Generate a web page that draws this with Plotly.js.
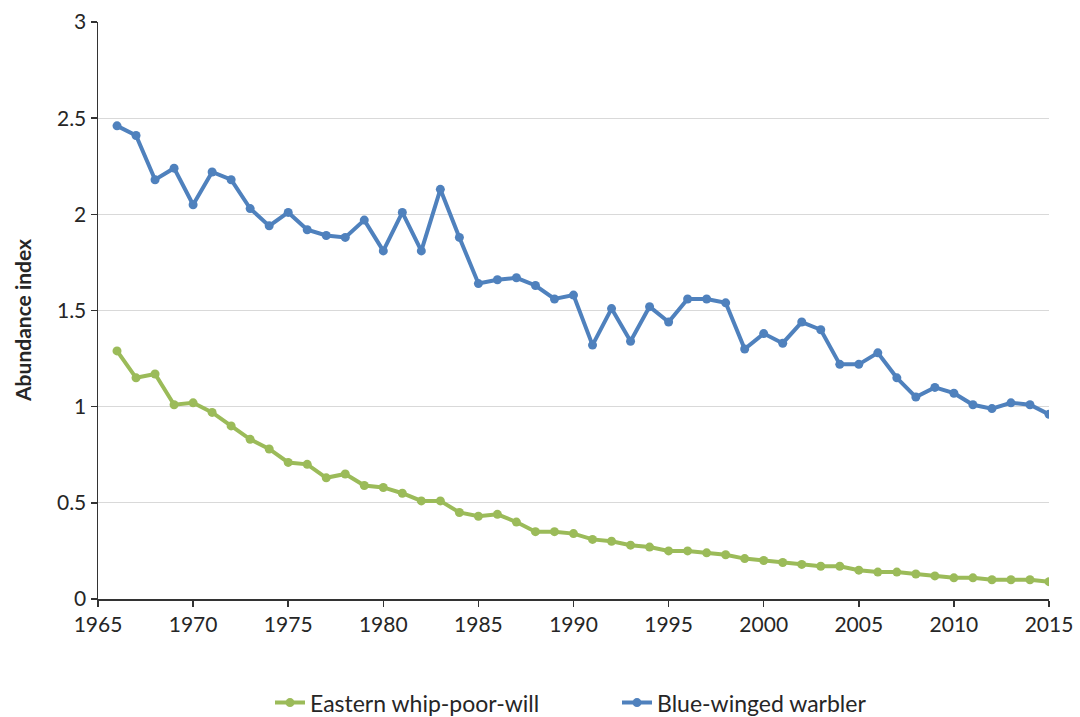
<!DOCTYPE html>
<html>
<head>
<meta charset="utf-8">
<script src="https://cdn.plot.ly/plotly-3.0.1.min.js"></script>
<style>
  html, body { margin: 0; padding: 0; background: #fff; }
  #chart { width: 1080px; height: 717px; }
</style>
</head>
<body>
<div id="chart"></div>
<script>
// Survey years
const years = [
  1966, 1967, 1968, 1969, 1970, 1971, 1972, 1973, 1974, 1975,
  1976, 1977, 1978, 1979, 1980, 1981, 1982, 1983, 1984, 1985,
  1986, 1987, 1988, 1989, 1990, 1991, 1992, 1993, 1994, 1995,
  1996, 1997, 1998, 1999, 2000, 2001, 2002, 2003, 2004, 2005,
  2006, 2007, 2008, 2009, 2010, 2011, 2012, 2013, 2014, 2015
];

// Abundance index, Eastern whip-poor-will
const whipPoorWill = [
  1.29, 1.15, 1.17, 1.01, 1.02, 0.97, 0.90, 0.83, 0.78, 0.71,
  0.70, 0.63, 0.65, 0.59, 0.58, 0.55, 0.51, 0.51, 0.45, 0.43,
  0.44, 0.40, 0.35, 0.35, 0.34, 0.31, 0.30, 0.28, 0.27, 0.25,
  0.25, 0.24, 0.23, 0.21, 0.20, 0.19, 0.18, 0.17, 0.17, 0.15,
  0.14, 0.14, 0.13, 0.12, 0.11, 0.11, 0.10, 0.10, 0.10, 0.09
];

// Abundance index, Blue-winged warbler
const blueWingedWarbler = [
  2.46, 2.41, 2.18, 2.24, 2.05, 2.22, 2.18, 2.03, 1.94, 2.01,
  1.92, 1.89, 1.88, 1.97, 1.81, 2.01, 1.81, 2.13, 1.88, 1.64,
  1.66, 1.67, 1.63, 1.56, 1.58, 1.32, 1.51, 1.34, 1.52, 1.44,
  1.56, 1.56, 1.54, 1.30, 1.38, 1.33, 1.44, 1.40, 1.22, 1.22,
  1.28, 1.15, 1.05, 1.10, 1.07, 1.01, 0.99, 1.02, 1.01, 0.96
];

const seriesNames = ['Eastern whip-poor-will', 'Blue-winged warbler'];
const xTicks = [1965, 1970, 1975, 1980, 1985, 1990, 1995, 2000, 2005, 2010, 2015];
const yTicks = [0, 0.5, 1, 1.5, 2, 2.5, 3];
const yTitle = 'Abundance index';

const FONT = 'Lato, "Open Sans", sans-serif';
const TEXT = '#262626';

const traces = [
  {
    x: years, y: whipPoorWill, name: seriesNames[0],
    type: 'scatter', mode: 'lines+markers',
    line: { color: '#9BBB59', width: 4 },
    marker: { color: '#9BBB59', size: 9 }
  },
  {
    x: years, y: blueWingedWarbler, name: seriesNames[1],
    type: 'scatter', mode: 'lines+markers',
    line: { color: '#4F81BD', width: 4 },
    marker: { color: '#4F81BD', size: 9 }
  }
];

const layout = {
  width: 1080, height: 717,
  margin: { l: 98, r: 31, t: 22, b: 118 },
  paper_bgcolor: '#ffffff', plot_bgcolor: '#ffffff',
  font: { family: FONT, size: 21, color: TEXT },
  showlegend: true,
  legend: {
    orientation: 'h',
    xref: 'container', x: 0.25, xanchor: 'left',
    yref: 'container', y: 0.02, yanchor: 'middle',
    font: { family: FONT, size: 23, color: TEXT },
    entrywidth: 302, entrywidthmode: 'pixels',
    tracegroupgap: 0
  },
  xaxis: {
    range: [1965, 2015],
    tickvals: xTicks, ticktext: xTicks.map(String),
    showgrid: false, zeroline: false,
    showline: true, linecolor: '#333', linewidth: 1.5,
    ticks: 'outside', ticklen: 6, tickcolor: '#333', tickwidth: 1.5,
    tickfont: { family: FONT, size: 21, color: TEXT }
  },
  yaxis: {
    range: [0, 3],
    tickvals: yTicks, ticktext: yTicks.map(String),
    showgrid: true, gridcolor: '#d9d9d9', gridwidth: 1.2,
    zeroline: false,
    showline: true, linecolor: '#333', linewidth: 1.5,
    ticks: 'outside', ticklen: 6, tickcolor: '#333', tickwidth: 1.5,
    tickfont: { family: FONT, size: 21, color: TEXT }
  },
  annotations: [{
    text: '<b>' + yTitle + '</b>',
    xref: 'paper', yref: 'paper',
    x: -0.08, y: 0.4835, xanchor: 'center', yanchor: 'middle',
    textangle: -90, showarrow: false,
    font: { family: FONT, size: 21, color: TEXT }
  }]
};

Plotly.newPlot('chart', traces, layout, { displayModeBar: false, staticPlot: true });
</script>
</body>
</html>
